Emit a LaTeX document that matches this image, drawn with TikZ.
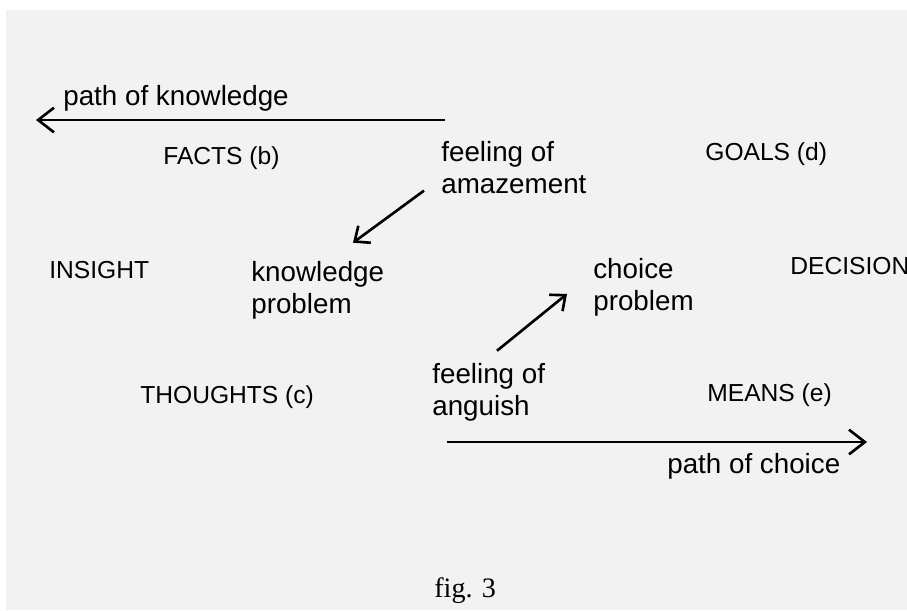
\documentclass[tikz,border=0pt]{standalone}
\usepackage{fontspec}
\setmainfont{Liberation Sans}
\newfontfamily\figfont{Liberation Serif}
\usepackage{tikz}
\usetikzlibrary{arrows.meta}

\tikzset{
  word/.style={inner sep=0pt, anchor=base west, align=left, font=\fontsize{15.8}{18.1}\selectfont},
  caps/.style={inner sep=0pt, anchor=base west, font=\fontsize{14}{17}\selectfont},
  path arrow/.style={line width=1.5pt, -{Straight Barb[length=9pt,width=14pt,line width=1.5pt]}},
  feel arrow/.style={line width=1.5pt, -{Straight Barb[length=7pt,width=12pt,line width=1.5pt]}}
}

\begin{document}
\begin{tikzpicture}
\useasboundingbox (0,-12.2) rectangle (18.14,0);
\fill[white] (0,-12.2) rectangle (18.14,0);
\fill[gray!10] (0.12,-12.2) rectangle (18.14,-0.2);

\node[word] (knowpath) at (1.26,-2.10) {path of knowledge};
\draw (8.90,-2.40) coordinate (k_1);
\draw (0.72,-2.40) coordinate (k_2);
\draw [path arrow] (k_1) -- (k_2);

\node[caps] (facts) at (3.26,-3.28) {FACTS (b)};
\node[caps] (goals) at (14.10,-3.20) {GOALS (d)};
\node[word] (amaze) at (8.82,-3.86) {feeling of\\amazement};

\node[caps] (insight) at (0.98,-5.56) {INSIGHT};
\node[word] (know) at (5.02,-6.26) {knowledge\\problem};
\node[word] (choice) at (11.86,-6.20) {choice\\problem};
\node[caps] (decision) at (15.80,-5.48) {DECISION};

\node[word] (anguish) at (8.64,-8.30) {feeling of\\anguish};
\node[caps] (thoughts) at (2.80,-8.06) {THOUGHTS (c)};
\node[caps] (means) at (14.14,-8.02) {MEANS (e)};

\draw [feel arrow] ([shift={(-0.34,0.06)}]amaze.south west) -- ([shift={(2.04,0.36)}]know.north west);
\draw [feel arrow] ([shift={(1.30,0.24)}]anguish.north west) -- ([shift={(-0.52,-0.14)}]choice.west);

\draw (8.94,-8.84) coordinate (c_1);
\draw (17.34,-8.84) coordinate (c_2);
\draw [path arrow] (c_1) -- (c_2);
\node[word] (choicepath) at (13.34,-9.46) {path of choice};

\node[inner sep=0pt, anchor=base west, font=\figfont\fontsize{16}{19}\selectfont] (fig) at (8.68,-11.94) {fig. 3};
\end{tikzpicture}
\end{document}
